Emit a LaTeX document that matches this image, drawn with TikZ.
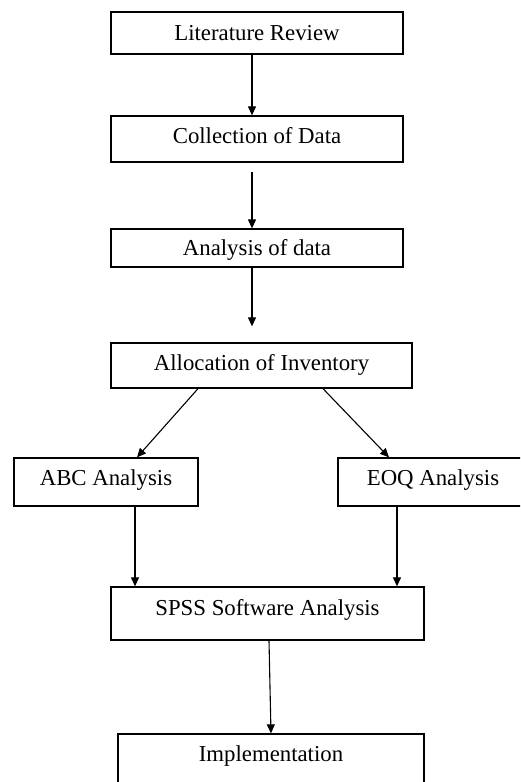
\documentclass[tikz,border=0pt]{standalone}
\usepackage{fontspec}
\setmainfont{Liberation Serif}
\usetikzlibrary{arrows.meta}
\begin{document}
\begin{tikzpicture}[x=1pt,y=-1pt,
  box/.style={draw, line width=1.3pt, inner sep=0pt, anchor=base, font=\fontsize{22.8}{27}\selectfont},
  arr/.style={line width=1.1pt, -{Triangle[length=9pt,width=8pt]}}]
\useasboundingbox (0,0) rectangle (520,782);
\clip (0,0) rectangle (520,782);
\fill[white] (0,0) rectangle (520,782);
\node[box, minimum width=292pt, text height=28pt, text depth=14pt] (lit) at (257,40) {Literature Review};
\node[box, minimum width=292pt, text height=27pt, text depth=19pt] (coll) at (257,143) {Collection of Data};
\node[box, minimum width=292pt, text height=26pt, text depth=12pt] (ana) at (257,255) {Analysis of data};
\node[box, minimum width=301pt, text height=27pt, text depth=18pt] (alloc) at (261.5,370) {Allocation of Inventory};
\node[box, minimum width=184pt, text height=27pt, text depth=21pt] (abc) at (106,485) {ABC Analysis};
\node[box, minimum width=190pt, text height=27pt, text depth=21pt] (eoq) at (433,485) {EOQ Analysis};
\node[box, minimum width=313pt, text height=28pt, text depth=25pt] (spss) at (267.5,615) {SPSS Software Analysis};
\node[box, minimum width=306pt, text height=27pt, text depth=30pt] (impl) at (271,761) {Implementation};
\draw[arr] (lit.south -| 252,0) -- (coll.north -| 252,0);
\draw[arr, shorten <=9pt] (coll.south -| 252,0) -- (ana.north -| 252,0);
\draw[arr, shorten >=16pt] (ana.south -| 252,0) -- (alloc.north -| 252,0);
\draw[arr] (alloc.south -| 198,0) -- (abc.north -| 137,0);
\draw[arr] (alloc.south -| 323,0) -- (eoq.north -| 389,0);
\draw[arr] (abc.south -| 135,0) -- (spss.north -| 135,0);
\draw[arr] (eoq.south -| 397,0) -- (spss.north -| 397,0);
\draw[arr] (spss.south -| 269,0) -- (impl.north -| 271,0);
\end{tikzpicture}
\end{document}
